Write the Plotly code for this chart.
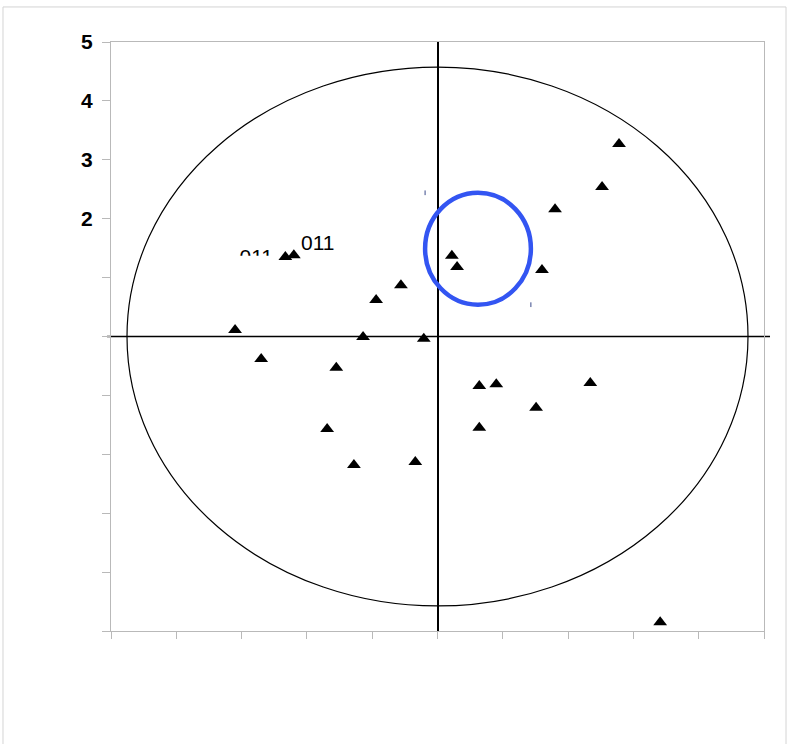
import plotly.graph_objects as go

# ---- data ----
point_x = [-3.10, -2.70, -2.33, -2.20, -1.55, -1.69, -1.28, -1.14, -0.94, -0.56,
           -0.34, -0.21, 0.22, 0.30, 0.64, 0.90, 0.64, 1.51, 1.60, 1.80,
           2.34, 2.52, 2.78, 3.41]
point_y = [0.11, -0.38, 1.35, 1.38, -0.53, -1.57, -2.18, -0.01, 0.62, 0.87,
           -2.13, -0.04, 1.37, 1.18, -0.84, -0.81, -1.55, -1.21, 1.13, 2.16,
           -0.79, 2.54, 3.27, -4.85]

tick_vals = [-5, -4, -3, -2, -1, 0, 1, 2, 3, 4, 5]
y_tick_text = ["", "", "", "", "", "", "", "2", "3", "4", "5"]

# correlation ellipse (centre and radii in data units)
ellipse_c = (0.0, 0.0)
ellipse_r = (4.755, 4.575)
# highlighted (blue) circle
blue_c = (0.62, 1.49)
blue_r = (0.81, 0.95)

label_visible = "011"
label_visible_xy = (-2.12, 1.60)
label_clipped = "011"
label_clipped_xy = (-2.52, 1.32)

FONT = "Arial, Liberation Sans, sans-serif"
GRAY = "#b9b9b9"

fig = go.Figure()

# clipped label (drawn as trace text, partially hidden by a white box above)
fig.add_trace(go.Scatter(
    x=[label_clipped_xy[0]], y=[label_clipped_xy[1]], mode="text",
    text=[label_clipped], textposition="middle left",
    textfont=dict(family=FONT, size=21, color="black"),
    hoverinfo="skip", showlegend=False))

fig.add_trace(go.Scatter(
    x=point_x, y=point_y, mode="markers",
    marker=dict(symbol="triangle-up", size=12, color="black",
                line=dict(width=0)),
    showlegend=False))

shapes = []
# outer image border
shapes.append(dict(type="rect", xref="paper", yref="paper",
                   x0=-0.1654, x1=1.0337, y0=-0.25, y1=1.0595,
                   line=dict(color="#d4d4d4", width=1), layer="below"))
# big ellipse
shapes.append(dict(type="circle", xref="x", yref="y",
                   x0=ellipse_c[0] - ellipse_r[0], x1=ellipse_c[0] + ellipse_r[0],
                   y0=ellipse_c[1] - ellipse_r[1], y1=ellipse_c[1] + ellipse_r[1],
                   line=dict(color="black", width=1.2), layer="below"))
# horizontal zero line extending slightly past the frame
shapes.append(dict(type="line", xref="paper", yref="paper",
                   x0=-0.0061, x1=1.0092, y0=0.5, y1=0.5,
                   line=dict(color="black", width=1.6), layer="below"))
# blue circle
shapes.append(dict(type="circle", xref="x", yref="y",
                   x0=blue_c[0] - blue_r[0], x1=blue_c[0] + blue_r[0],
                   y0=blue_c[1] - blue_r[1], y1=blue_c[1] + blue_r[1],
                   line=dict(color="#3355F2", width=4.5), layer="above"))
# tiny handles at the blue circle's bounding-box corners
shapes.append(dict(type="line", xref="x", yref="y",
                   x0=blue_c[0] - blue_r[0], x1=blue_c[0] - blue_r[0],
                   y0=blue_c[1] + blue_r[1] + 0.04, y1=blue_c[1] + blue_r[1] - 0.04,
                   line=dict(color="#3a4a8a", width=1), layer="above"))
shapes.append(dict(type="line", xref="x", yref="y",
                   x0=blue_c[0] + blue_r[0], x1=blue_c[0] + blue_r[0],
                   y0=blue_c[1] - blue_r[1] + 0.04, y1=blue_c[1] - blue_r[1] - 0.04,
                   line=dict(color="#3a4a8a", width=1), layer="above"))
# white box clipping the lower part of the hidden label
shapes.append(dict(type="rect", xref="x", yref="y",
                   x0=-3.25, x1=-2.45, y0=1.08, y1=1.372,
                   line=dict(width=0), fillcolor="white", layer="above"))

fig.update_layout(
    width=788, height=744,
    margin=dict(l=111, r=24, t=42, b=113),
    paper_bgcolor="white", plot_bgcolor="white",
    shapes=shapes,
    xaxis=dict(range=[-5, 5], tickvals=tick_vals, showticklabels=False,
               ticks="outside", ticklen=7, tickcolor=GRAY, tickwidth=1,
               showline=True, linecolor=GRAY, linewidth=1, mirror=True,
               showgrid=False, zeroline=True, zerolinecolor="black",
               zerolinewidth=1.5),
    yaxis=dict(range=[-5, 5], tickvals=tick_vals, ticktext=y_tick_text,
               ticks="outside", ticklen=8, tickcolor=GRAY, tickwidth=1,
               tickfont=dict(family=FONT, size=21, color="black", weight="bold"),
               ticklabelstandoff=5,
               showline=True, linecolor=GRAY, linewidth=1, mirror=True,
               showgrid=False, zeroline=False),
    annotations=[dict(x=label_visible_xy[0], y=label_visible_xy[1],
                      xref="x", yref="y", text=label_visible, showarrow=False,
                      xanchor="left", yanchor="middle",
                      font=dict(family=FONT, size=21, color="black"))],
)

fig.write_html("out.html",
               config={"displayModeBar": False},
               post_script="document.body.style.margin='0';document.body.style.overflow='hidden';")
